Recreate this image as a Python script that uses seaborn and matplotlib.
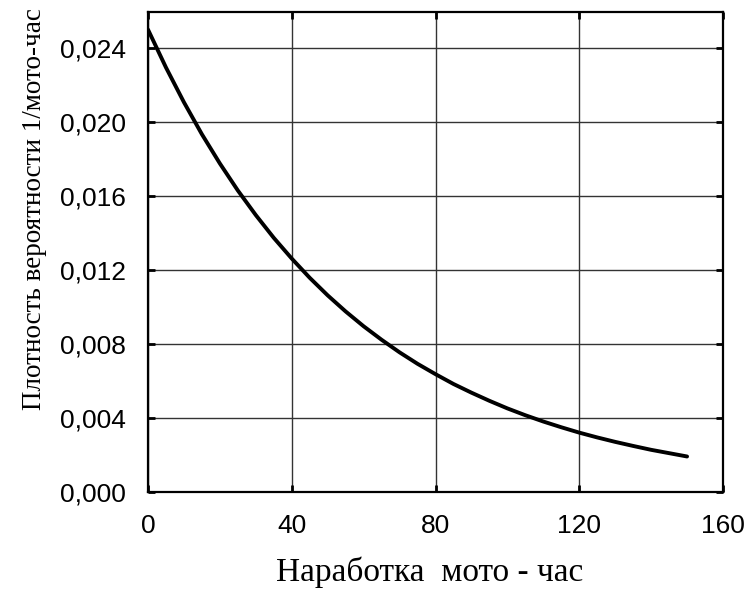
import matplotlib
matplotlib.use("Agg")
import matplotlib.pyplot as plt
import seaborn as sns
import pandas as pd

# Data
hours = [0, 5, 10, 15, 20, 25, 30, 35, 40, 45, 50, 55, 60, 65, 70, 75,
         80, 85, 90, 95, 100, 105, 110, 115, 120, 125, 130, 135, 140, 145, 150]
density = [0.02500, 0.02295, 0.02107, 0.01934, 0.01776, 0.01630, 0.01497,
           0.01374, 0.01262, 0.01158, 0.01063, 0.00976, 0.00896, 0.00823,
           0.00755, 0.00693, 0.00637, 0.00584, 0.00537, 0.00493, 0.00452,
           0.00415, 0.00381, 0.00350, 0.00321, 0.00295, 0.00271, 0.00249,
           0.00228, 0.00210, 0.00192]
x_ticks = [0, 40, 80, 120, 160]
y_ticks = [0.000, 0.004, 0.008, 0.012, 0.016, 0.020, 0.024]
y_tick_labels = ["0,000", "0,004", "0,008", "0,012", "0,016", "0,020", "0,024"]
x_label = "Наработка  мото - час"
y_label = "Плотность вероятности 1/мото-час"

sns.set_theme(style="white")
plt.rcParams["font.family"] = ["Liberation Sans", "DejaVu Sans"]

df = pd.DataFrame({"t": hours, "f": density})

fig = plt.figure(figsize=(7.47, 5.89), dpi=100)
ax = fig.add_axes([148 / 747, 1 - 492 / 589, (723 - 148) / 747, (492 - 12) / 589])

sns.lineplot(data=df, x="t", y="f", ax=ax, color="black", linewidth=2.8)

ax.set_xlim(0, 160)
ax.set_ylim(0, 0.02595)
ax.set_xticks(x_ticks)
ax.set_xticklabels([str(v) for v in x_ticks])
ax.set_yticks(y_ticks)
ax.set_yticklabels(y_tick_labels)
ax.grid(True, color="#333333", linewidth=1.0)
ax.set_axisbelow(True)

for s in ax.spines.values():
    s.set_visible(True)
    s.set_color("black")
    s.set_linewidth(1.6)

ax.tick_params(direction="in", length=5, width=2, colors="black",
               top=True, right=True, bottom=True, left=True,
               labelsize=19)
ax.tick_params(axis="x", pad=16)
ax.tick_params(axis="y", pad=16)

ax.set_xlabel(x_label, fontfamily=["Liberation Serif", "DejaVu Serif"],
              fontsize=24, color="black")
ax.set_ylabel(y_label, fontfamily=["Liberation Serif", "DejaVu Serif"],
              fontsize=19.5, color="black")
ax.xaxis.set_label_coords(0.49, -0.135)
ax.yaxis.set_label_coords(-0.175, 0.59)

fig.savefig("out.png", dpi=100)
